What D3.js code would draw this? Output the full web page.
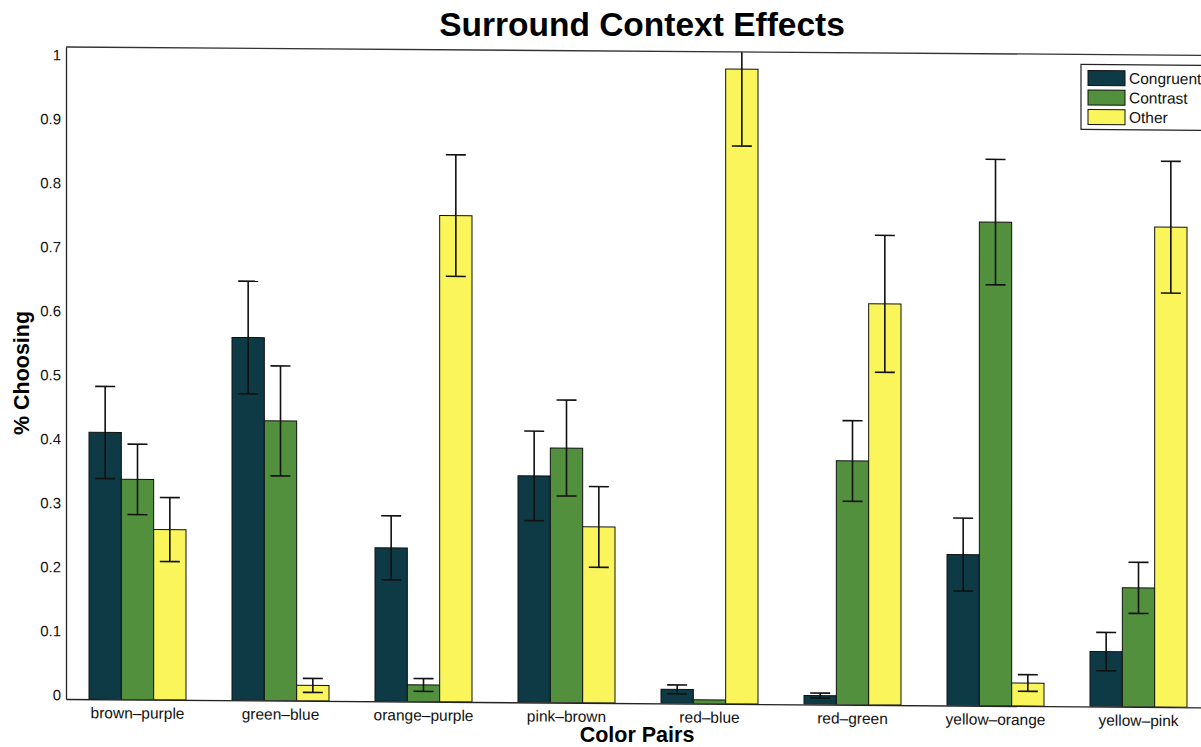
<!DOCTYPE html>
<html>
<head>
<meta charset="utf-8">
<script src="https://cdn.jsdelivr.net/npm/d3@7"></script>
<style>
  body { margin: 0; background: #fff; }
  svg { font-family: 'Liberation Sans', Arial, Helvetica, sans-serif; }
</style>
</head>
<body>
<figure id="chart" style="margin:0"></figure>
<script>
// data
const categories = ['brown–purple', 'green–blue', 'orange–purple', 'pink–brown',
  'red–blue', 'red–green', 'yellow–orange', 'yellow–pink'];
const series = ['Congruent', 'Contrast', 'Other'];
const congruent = [0.417, 0.567, 0.240, 0.354, 0.022, 0.014, 0.236, 0.086];
const congruentErr = [0.072, 0.088, 0.050, 0.070, 0.007, 0.004, 0.057, 0.030];
const contrast = [0.344, 0.437, 0.026, 0.398, 0.006, 0.381, 0.756, 0.186];
const contrastErr = [0.055, 0.086, 0.010, 0.075, 0, 0.063, 0.098, 0.040];
const other = [0.266, 0.024, 0.760, 0.275, 0.992, 0.627, 0.036, 0.750];
const otherErr = [0.050, 0.011, 0.095, 0.063, 0.120, 0.107, 0.013, 0.103];
const yTicks = [0, 0.1, 0.2, 0.3, 0.4, 0.5, 0.6, 0.7, 0.8, 0.9, 1];

const colors = {Congruent: '#0e3a46', Contrast: '#52903d', Other: '#f9f55b'};

const width = 1201, height = 747;
const plotLeft = 66, plotRight = 1210, plotBottom = 699, plotTop = 47;
const yMax = 1.019;
const skew = 0.42; // the scan is a little tilted

const values = [congruent, contrast, other];
const errs = [congruentErr, contrastErr, otherErr];
const rows = [];
categories.forEach((c, i) => {
  series.forEach((s, j) => {
    rows.push({cat: c, series: s, value: values[j][i], err: errs[j][i]});
  });
});

const svg = d3.select('figure#chart')
  .append('svg')
  .attr('width', width)
  .attr('height', height);

const x = d3.scaleBand().domain(categories).range([plotLeft, plotRight]);
const xs = d3.scaleBand().domain(series).range([-48.5, 48.5]);
const y = d3.scaleLinear().domain([0, yMax]).range([plotBottom, plotTop]);

svg.append('clipPath').attr('id', 'plot-clip')
  .append('rect')
  .attr('x', plotLeft).attr('y', plotTop)
  .attr('width', plotRight - plotLeft).attr('height', plotBottom - plotTop);

const g = svg.append('g')
  .attr('transform', 'translate(0,' + (-plotLeft * Math.tan(skew * Math.PI / 180)) + ') skewY(' + skew + ')');

// bars
const plot = g.append('g').attr('clip-path', 'url(#plot-clip)');
plot.selectAll('rect.bar')
  .data(rows)
  .enter()
  .append('rect')
  .attr('class', 'bar')
  .attr('x', d => x(d.cat) + x.bandwidth() / 2 + xs(d.series))
  .attr('y', d => y(d.value))
  .attr('width', xs.bandwidth())
  .attr('height', d => y(0) - y(d.value))
  .attr('fill', d => colors[d.series])
  .attr('stroke', '#111')
  .attr('stroke-width', 1);

// error bars
const eb = plot.selectAll('g.err')
  .data(rows.filter(d => d.err > 0))
  .enter()
  .append('g')
  .attr('class', 'err')
  .attr('stroke', '#111')
  .attr('stroke-width', 1.6);
const cx = d => x(d.cat) + x.bandwidth() / 2 + xs(d.series) + xs.bandwidth() / 2;
eb.append('line')
  .attr('x1', cx).attr('x2', cx)
  .attr('y1', d => y(d.value - d.err)).attr('y2', d => y(d.value + d.err));
eb.append('line')
  .attr('x1', d => cx(d) - 10).attr('x2', d => cx(d) + 10)
  .attr('y1', d => y(d.value + d.err)).attr('y2', d => y(d.value + d.err));
eb.append('line')
  .attr('x1', d => cx(d) - 10).attr('x2', d => cx(d) + 10)
  .attr('y1', d => y(d.value - d.err)).attr('y2', d => y(d.value - d.err));

// axes
const yAxis = g.append('g')
  .attr('transform', 'translate(' + plotLeft + ',0)')
  .call(d3.axisLeft(y).tickValues(yTicks).tickSize(0).tickPadding(5).tickFormat(d3.format('')));
yAxis.select('.domain').attr('stroke', '#222').attr('stroke-width', 1.3);
yAxis.selectAll('text')
  .attr('font-size', 15).attr('fill', '#111')
  .attr('y', -4);
yAxis.attr('font-family', null);

const xAxis = g.append('g')
  .attr('transform', 'translate(0,' + plotBottom + ')')
  .call(d3.axisBottom(x).tickSize(0).tickPadding(8));
xAxis.select('.domain').attr('stroke', '#222').attr('stroke-width', 1.3);
xAxis.selectAll('text')
  .attr('font-size', 15.5).attr('fill', '#111');
xAxis.attr('font-family', null);

// box top
g.append('line')
  .attr('x1', plotLeft).attr('x2', plotRight)
  .attr('y1', plotTop).attr('y2', plotTop)
  .attr('stroke', '#333').attr('stroke-width', 1.3);

// legend
const legend = g.append('g').attr('transform', 'translate(1081,57)');
legend.append('rect')
  .attr('x', 0).attr('y', 0).attr('width', 140).attr('height', 65)
  .attr('fill', '#fff').attr('stroke', '#222').attr('stroke-width', 1.2);
const li = legend.selectAll('g.item')
  .data(series)
  .enter()
  .append('g')
  .attr('class', 'item')
  .attr('transform', (d, i) => 'translate(7,' + (6 + i * 19.5) + ')');
li.append('rect')
  .attr('width', 37).attr('height', 15)
  .attr('fill', d => colors[d])
  .attr('stroke', '#111').attr('stroke-width', 1);
li.append('text')
  .attr('x', 41).attr('y', 13)
  .attr('font-size', 15.5).attr('fill', '#111')
  .text(d => d);

// titles
svg.append('text')
  .attr('x', 642).attr('y', 36)
  .attr('text-anchor', 'middle')
  .attr('font-size', 33.5).attr('font-weight', 'bold')
  .text('Surround Context Effects');

svg.append('text')
  .attr('x', 637).attr('y', 742)
  .attr('text-anchor', 'middle')
  .attr('font-size', 21.5).attr('font-weight', 'bold')
  .text('Color Pairs');

svg.append('text')
  .attr('transform', 'translate(29,373) rotate(-90)')
  .attr('text-anchor', 'middle')
  .attr('font-size', 21.5).attr('font-weight', 'bold')
  .text('% Choosing');
</script>
</body>
</html>
